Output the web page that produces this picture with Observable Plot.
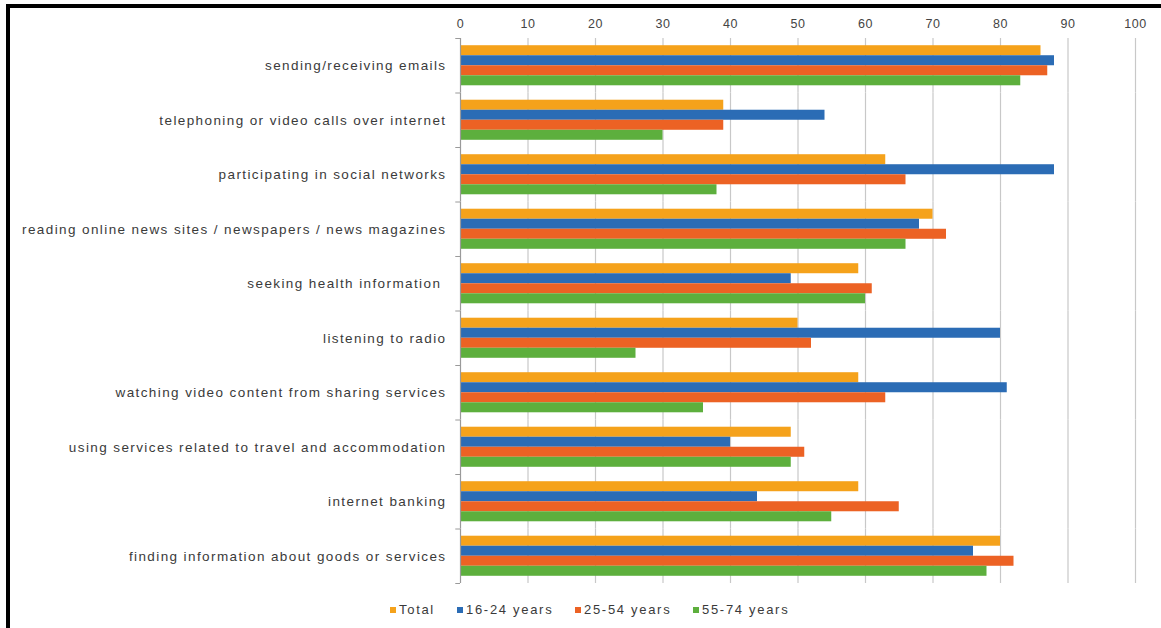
<!DOCTYPE html>
<html>
<head>
<meta charset="utf-8">
<script src="https://cdn.jsdelivr.net/npm/d3@7"></script>
<script src="https://cdn.jsdelivr.net/npm/@observablehq/plot@0.6"></script>
<style>
  html, body { margin: 0; padding: 0; background: #fff; }
  body { width: 1161px; height: 628px; position: relative; overflow: hidden; font-family: "Liberation Sans", Arial, sans-serif; }
  #chart { position: absolute; left: 0; top: 0; }
  .bl { position: absolute; left: 6px; top: 4px; width: 4px; height: 624px; background: #000; }
  .bt { position: absolute; left: 6px; top: 4px; width: 1155px; height: 4px; background: #000; }
  #legend { position: absolute; top: 602px; left: 0; width: 1161px; font-size: 13px; color: #3a3a3a; letter-spacing: 1.7px; }
  #legend span.item { position: absolute; top: 0; white-space: nowrap; }
  #legend span.sw { display: inline-block; width: 6px; height: 6px; margin-right: 3px; vertical-align: 1px; }
</style>
</head>
<body>
<div id="chart"></div>
<div id="legend"></div>
<div class="bl"></div>
<div class="bt"></div>
<script>
const categories = [
  "sending/receiving emails",
  "telephoning or video calls over internet",
  "participating in social networks",
  "reading online news sites / newspapers / news magazines",
  "seeking health information ",
  "listening to radio",
  "watching video content from sharing services",
  "using services related to travel and accommodation",
  "internet banking",
  "finding information about goods or services"
];
const series = ["Total", "16-24 years", "25-54 years", "55-74 years"];
const totalValues = [86, 39, 63, 70, 59, 50, 59, 49, 59, 80];
const age16to24 = [88, 54, 88, 68, 49, 80, 81, 40, 44, 76];
const age25to54 = [87, 39, 66, 72, 61, 52, 63, 51, 65, 82];
const age55to74 = [83, 30, 38, 66, 60, 26, 36, 49, 55, 78];
const xTicks = [0, 10, 20, 30, 40, 50, 60, 70, 80, 90, 100];
const colors = ["#F5A21B", "#2B6CB5", "#EC6224", "#5DAF3D"];

const seriesValues = [totalValues, age16to24, age25to54, age55to74];
const data = [];
categories.forEach((c, i) => {
  series.forEach((s, j) => data.push({category: c, series: s, value: seriesValues[j][i]}));
});

const W = 1161, H = 590, mTop = 38, mBottom = 7;
const facetH = (H - mTop - mBottom) / categories.length;
const po = 0.72;
const step = facetH / (series.length + 2 * po);
const edge = po * step + step / 2;

const firstRows = data.filter(d => d.series === series[0]);
const lastRows = data.filter(d => d.series === series[series.length - 1] && d.category === categories[categories.length - 1]);

const chart = Plot.plot({
  width: W,
  height: H,
  marginLeft: 460,
  marginRight: 26,
  marginTop: mTop,
  marginBottom: mBottom,
  style: {fontFamily: "'Liberation Sans', Arial, sans-serif", background: "#fff"},
  x: {domain: [0, 100], axis: null},
  y: {domain: series, paddingInner: 0, paddingOuter: po, round: false, axis: null},
  fy: {domain: categories, padding: 0, round: false, axis: null},
  color: {domain: series, range: colors},
  marks: [
    Plot.gridX({ticks: xTicks.filter(t => t > 0), stroke: "#c8c8c8", strokeOpacity: 1, strokeWidth: 1.2}),
    Plot.barX(data, {x: "value", y: "series", fy: "category", fill: "series"}),
    Plot.ruleX([0], {stroke: "#9a9a9a", strokeWidth: 1.2}),
    Plot.ruleY(firstRows, {y: "series", fy: "category", x1: -0.7, x2: 0, dy: -edge, stroke: "#9a9a9a"}),
    Plot.ruleY(lastRows, {y: "series", fy: "category", x1: -0.7, x2: 0, dy: edge, stroke: "#9a9a9a"}),
    Plot.axisX({anchor: "top", ticks: xTicks, tickSize: 0, tickPadding: 11, label: null, fontSize: 12.5, fill: "#444", tickFormat: d => String(d)}),
    Plot.axisFy({anchor: "left", tickSize: 0, tickPadding: 14, label: null, fontSize: 13.5, fill: "#3a3a3a"})
  ]
});
d3.select(chart).selectAll('g[aria-label="fy-axis tick label"] text').style("letter-spacing", "1.4px");
d3.select(chart).selectAll('g[aria-label="x-axis tick label"] text').style("letter-spacing", "0.6px");
document.getElementById("chart").appendChild(chart);

const legend = document.getElementById("legend");
const lx = [390, 457, 575, 693];
series.forEach((s, i) => {
  const it = document.createElement("span");
  it.className = "item";
  it.style.left = lx[i] + "px";
  const sw = document.createElement("span");
  sw.className = "sw";
  sw.style.background = colors[i];
  it.appendChild(sw);
  it.appendChild(document.createTextNode(s));
  legend.appendChild(it);
});
</script>
</body>
</html>
